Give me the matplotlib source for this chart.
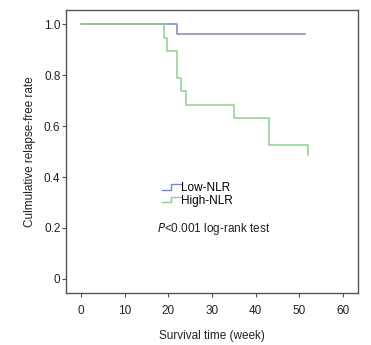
import matplotlib
matplotlib.use("Agg")
import matplotlib.pyplot as plt
from matplotlib.lines import Line2D
from matplotlib.legend_handler import HandlerBase

plt.rcParams['font.family'] = ['Liberation Sans', 'DejaVu Sans']

# Kaplan-Meier step data (time in weeks, survival)
low_t = [0, 22, 51.3]
low_s = [1.0, 0.963, 0.963]
high_t = [0, 19, 19.8, 22, 23, 24, 35, 43, 52, 52]
high_s = [1.0, 0.947, 0.895, 0.789, 0.737, 0.684, 0.63, 0.525, 0.525, 0.486]

series_labels = ["Low-NLR", "High-NLR"]
colors = ["#7d87b9", "#8ccf8c"]
xticks = [0, 10, 20, 30, 40, 50, 60]
yticks = [0, 0.2, 0.4, 0.6, 0.8, 1.0]
ytick_labels = ["0", "0.2", "0.4", "0.6", "0.8", "1.0"]

fig = plt.figure(figsize=(3.71, 3.45), dpi=100)
ax = fig.add_axes([0.178, 0.151, 0.787, 0.820])

ax.step(low_t, low_s, where='post', color=colors[0], lw=1.1)
ax.step(high_t, high_s, where='post', color=colors[1], lw=1.1)

ax.set_xlim(-3.4, 63.4)
ax.set_ylim(-0.055, 1.056)
ax.set_xticks(xticks)
ax.set_xticklabels([str(v) for v in xticks])
ax.set_yticks(yticks)
ax.set_yticklabels(ytick_labels)
for s in ax.spines.values():
    s.set_color('#555555')
    s.set_linewidth(1.0)
ax.tick_params(axis='both', colors='#555555', labelcolor='#222222', labelsize=8.5,
               length=3, width=0.8, direction='out')
ax.tick_params(axis='x', pad=6)
ax.tick_params(axis='y', pad=1)

ax.set_xlabel("Survival time (week)", fontsize=8.5, color='#222222', labelpad=9)
ax.set_ylabel("Culmulative relapse-free rate", fontsize=8.5, color='#222222', labelpad=6)


class StepHandler(HandlerBase):
    def create_artists(self, legend, orig_handle, xdescent, ydescent, width, height, fontsize, trans):
        x0 = -xdescent
        y0 = -ydescent
        xs = [x0, x0 + width * 0.5, x0 + width * 0.5, x0 + width]
        ys = [y0 + height * 0.2, y0 + height * 0.2, y0 + height * 0.85, y0 + height * 0.85]
        l = Line2D(xs, ys, color=orig_handle.get_color(), lw=1.0, transform=trans)
        return [l]


handles = [Line2D([], [], color=c) for c in colors]
ax.legend(handles, series_labels, handler_map={Line2D: StepHandler()},
          loc='upper left', bbox_to_anchor=(0.30, 0.42), frameon=False,
          fontsize=8.5, handlelength=1.6, handletextpad=0.05, labelspacing=0.05,
          borderpad=0.2)

ax.text(0.31, 0.226, r"$P$<0.001 log-rank test", transform=ax.transAxes,
        fontsize=8.5, color='#222222', va='center', ha='left')

fig.savefig("out.png", dpi=100)
